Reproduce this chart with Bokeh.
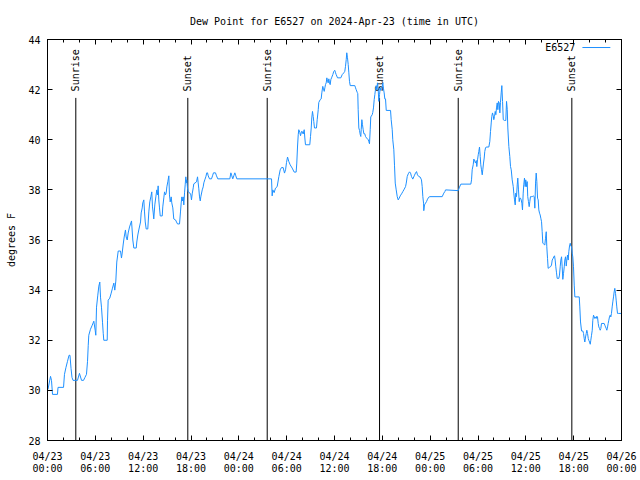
import math
from bokeh.plotting import figure
from bokeh.models import Range1d, FixedTicker, LinearAxis, Label, Arrow
from bokeh.core.properties import value
from bokeh.embed import file_html
from bokeh.resources import INLINE

# ---- data (hours since 2024-04-23 00:00 UTC, dew point in degrees F) ----
hours = [
    0.06, 0.38, 0.50, 0.63, 1.25, 1.32, 2.01, 2.13, 2.32, 2.51, 2.70, 2.82, 2.95, 3.07, 3.20, 3.76,
    4.01, 4.27, 4.52, 4.70, 4.89, 5.02, 5.11, 5.18, 5.39, 5.61, 5.81, 5.98, 6.06, 6.15, 6.31, 6.44,
    6.56, 6.65, 6.77, 6.90, 6.99, 7.06, 7.49, 7.53, 7.61, 7.81, 7.99, 8.15, 8.32, 8.44, 8.57, 8.69,
    8.87, 9.16, 9.28, 9.37, 9.50, 9.62, 9.78, 9.87, 10.00, 10.12, 10.29, 10.54, 10.70, 10.83, 11.13,
    11.20, 11.33, 11.45, 11.67, 11.75, 11.88, 11.95, 12.08, 12.17, 12.26, 12.38, 12.58, 12.71, 12.83,
    12.96, 13.08, 13.17, 13.26, 13.33, 13.46, 13.59, 13.71, 13.80, 13.88, 13.96, 14.05, 14.14, 14.39,
    14.46, 14.59, 14.68, 14.80, 14.89, 14.97, 15.09, 15.22, 15.30, 15.39, 15.52, 15.59, 15.72, 15.84,
    16.06, 16.18, 16.31, 16.56, 16.68, 16.77, 16.85, 16.93, 17.02, 17.10, 17.19, 17.27, 17.35, 17.43,
    17.47, 17.56, 17.65, 17.85, 17.98, 18.06, 18.15, 18.28, 18.35, 18.69, 18.82, 18.90, 18.98, 19.07,
    19.16, 19.23, 19.41, 19.53, 19.61, 19.73, 19.86, 19.98, 20.07, 20.16, 20.32, 20.57, 20.70, 20.82,
    21.07, 21.20, 21.36, 22.87, 23.00, 23.12, 23.24, 23.37, 23.50, 23.62, 23.75, 28.10,
    28.18, 28.26, 28.43, 28.60, 28.81, 29.02, 29.19, 29.35, 29.56, 29.73, 29.86, 29.98, 30.11, 30.27,
    30.44, 30.69, 30.94, 31.19, 31.27, 31.36, 31.45, 31.52, 31.65, 31.74, 31.86, 31.95, 32.07, 32.20,
    32.28, 32.36, 32.90, 32.99, 33.08, 33.15, 33.24, 33.33, 33.40, 33.49, 33.74, 33.83, 33.96, 34.03,
    34.21, 34.33, 34.41, 34.53, 34.62, 34.71, 34.79, 34.87, 34.96, 35.04, 35.12, 35.21, 35.29, 35.37,
    35.46, 35.54, 35.63, 35.79, 35.91, 36.04, 36.13, 36.21, 36.38, 36.79, 36.97, 37.17, 37.29, 37.38,
    37.47, 37.54, 37.63, 37.72, 37.80, 37.88, 37.97, 38.55, 38.64, 38.72, 38.85, 38.92, 38.97, 39.05,
    39.14, 39.23, 39.30, 39.35, 39.43, 39.51, 39.60, 39.68, 39.80, 39.89, 40.02, 40.14, 40.23, 40.30,
    40.39, 40.48, 40.55, 40.73, 40.80, 40.89, 40.98, 41.06, 41.14, 41.23, 41.31, 41.40, 41.48, 41.56,
    41.65, 41.73, 41.81, 41.90, 41.98, 42.06, 42.15, 42.23, 42.31, 42.40, 42.49, 43.03, 43.11, 43.24,
    43.31, 43.44, 43.53, 43.62, 43.74, 43.87, 43.99, 44.12, 44.24, 44.41, 44.57, 44.75, 44.91, 45.00,
    45.12, 45.25, 45.41, 45.54, 45.66, 45.82, 46.00, 46.16, 46.29, 46.41, 46.58, 46.75, 46.91, 47.00,
    47.08, 47.17, 47.20, 47.29, 47.42, 47.54, 47.67, 47.83, 47.96, 49.51, 49.71, 49.84, 49.93, 51.52,
    51.68, 51.85, 53.10, 53.19, 53.27, 53.40, 53.48, 53.60, 53.69, 53.78, 53.85, 53.94, 54.03, 54.10,
    54.19, 54.28, 54.35, 54.44, 54.53, 54.60, 54.69, 54.78, 54.85, 54.94, 55.03, 55.36, 55.48, 55.57,
    55.66, 55.73, 55.82, 55.91, 55.98, 56.07, 56.16, 56.24, 56.32, 56.41, 56.49, 56.57, 56.66, 56.74,
    56.82, 56.91, 56.99, 57.08, 57.17, 57.33, 57.49, 57.58, 57.67, 57.74, 57.87, 57.99, 58.08, 58.17,
    58.29, 58.42, 58.49, 58.58, 58.67, 58.74, 58.83, 58.92, 58.99, 59.08, 59.17, 59.24, 59.33, 59.42,
    59.50, 59.58, 59.67, 59.74, 59.83, 59.92, 59.99, 60.08, 60.17, 60.24, 60.33, 60.42, 60.50, 60.58,
    60.67, 60.80, 60.92, 61.05, 61.13, 61.22, 61.30, 61.38, 61.47, 61.55, 61.63, 61.72, 61.80, 61.88,
    61.97, 62.05, 62.13, 62.25, 62.38, 62.47, 62.56, 62.63, 62.72, 62.80, 62.97, 63.09, 63.22, 63.31,
    63.43, 63.51, 63.60, 63.68, 63.76, 63.85, 63.93, 64.14, 64.22, 64.31, 64.39, 64.48, 64.56, 64.64,
    64.73, 64.82, 64.89, 64.98, 65.07, 65.14, 65.23, 65.32, 65.39, 65.48, 65.57, 65.64, 65.73, 65.82,
    65.89, 65.98, 66.07, 66.15, 66.70, 66.77, 66.86, 66.99, 67.15, 67.24, 67.32, 67.40, 67.49, 67.58,
    67.65, 67.74, 67.83, 67.90, 67.99, 68.08, 68.15, 68.24, 68.33, 68.40, 68.49, 68.58, 68.65, 68.74,
    68.83, 68.90, 68.99, 69.08, 69.16, 69.24, 69.33, 69.41, 69.49, 69.83, 69.91, 70.00, 70.08, 70.16,
    70.25, 70.33, 70.41, 70.49, 70.58, 70.66, 70.74, 70.83, 70.91, 71.00, 71.08, 71.16, 71.25, 71.33,
    71.41, 71.50, 71.66, 72.00,
]
dewpoint = [
    30.04, 30.56, 30.40, 29.84, 29.84, 30.12, 30.12, 30.64, 30.92, 31.16, 31.40, 31.40, 30.88, 30.52, 30.40, 30.40,
    30.68, 30.40, 30.40, 30.52, 30.64, 31.16, 31.80, 32.20, 32.44, 32.60, 32.76, 32.40, 32.20, 33.32, 33.80, 34.16,
    34.32, 33.72, 33.32, 32.72, 32.28, 32.00, 32.00, 32.80, 33.60, 33.68, 33.88, 34.08, 34.28, 34.00, 34.36, 35.12,
    35.56, 35.56, 35.28, 35.48, 35.84, 36.12, 36.40, 36.12, 36.00, 36.28, 36.52, 36.76, 36.00, 35.68, 35.68,
    35.92, 36.20, 36.40, 36.72, 37.08, 37.28, 37.48, 37.60, 37.12, 36.72, 36.44, 36.44, 37.12, 37.52,
    37.72, 37.92, 37.32, 37.08, 36.84, 37.40, 37.72, 38.00, 37.80, 38.16, 37.60, 37.28, 36.96, 36.96,
    37.32, 37.68, 37.92, 37.80, 37.88, 38.12, 38.32, 38.56, 37.80, 37.52, 37.72, 37.48, 37.28, 36.84,
    36.80, 36.72, 36.64, 36.64, 37.12, 37.48, 37.72, 37.56, 37.72, 37.40, 37.88, 38.20, 38.52, 38.28,
    38.40, 38.08, 37.92, 37.88, 37.80, 37.60, 37.84, 38.08, 38.24, 38.32, 38.52, 38.28, 38.04, 37.72,
    37.56, 37.72, 38.00, 38.12, 38.28, 38.40, 38.52, 38.68, 38.68, 38.56, 38.44, 38.44, 38.56, 38.68,
    38.68, 38.56, 38.44, 38.44, 38.68, 38.56, 38.44, 38.56, 38.68, 38.56, 38.44, 38.44,
    37.76, 38.00, 37.89, 38.07, 38.13, 38.53, 38.80, 38.89, 38.89, 38.67, 38.80, 39.09, 39.31, 39.13,
    39.00, 38.87, 38.71, 38.71, 39.07, 39.71, 40.20, 40.40, 40.29, 40.16, 40.33, 40.33, 40.23, 40.40,
    40.07, 39.80, 39.80, 40.13, 40.47, 40.87, 41.13, 40.93, 40.73, 40.47, 40.47, 40.80, 41.20, 41.49,
    41.60, 41.63, 41.87, 42.13, 42.03, 41.93, 42.07, 42.20, 42.27, 42.47, 42.33, 42.27, 42.43, 42.27,
    42.20, 42.40, 42.47, 42.60, 42.73, 42.77, 42.67, 42.60, 42.47, 42.47, 42.60, 42.67, 42.73, 42.93,
    43.20, 43.47, 43.27, 43.00, 42.67, 42.33, 42.16, 42.16, 42.07, 42.00, 41.89, 41.84, 41.20, 40.47,
    40.37, 40.20, 40.13, 40.40, 40.80, 40.60, 40.40, 40.24, 40.24, 40.13, 40.07, 40.03, 40.00, 39.93,
    39.84, 40.40, 40.91, 41.00, 41.09, 41.27, 41.60, 41.80, 42.00, 42.16, 42.00, 42.27, 42.00, 41.53,
    41.80, 42.07, 41.97, 42.00, 42.11, 42.27, 42.03, 41.87, 41.63, 41.63, 41.17, 41.17, 40.80, 40.40,
    40.00, 39.60, 38.96, 38.27, 38.00, 37.73, 37.60, 37.67, 37.76, 37.84, 37.93, 38.03, 38.13, 38.27,
    38.53, 38.64, 38.72, 38.67, 38.53, 38.43, 38.56, 38.67, 38.73, 38.60, 38.53, 38.51, 38.40, 38.13,
    37.73, 37.47, 37.17, 37.40, 37.47, 37.53, 37.63, 37.71, 37.73, 37.73, 37.87, 37.93, 38.00, 37.97,
    38.11, 38.23, 38.23, 38.40, 38.80, 39.00, 39.23, 39.13, 39.07, 39.17, 38.93, 39.20, 39.40, 39.53,
    39.71, 39.33, 39.00, 38.80, 38.60, 38.80, 39.07, 39.27, 39.53, 39.67, 39.71, 39.71, 39.93, 40.33,
    40.67, 40.93, 41.07, 40.96, 40.80, 40.93, 41.13, 41.00, 41.27, 41.47, 41.20, 41.53, 41.47, 41.07,
    41.49, 41.87, 42.16, 41.53, 40.80, 40.77, 40.77, 41.53, 41.20, 40.47, 39.73, 39.33, 38.93, 38.80,
    38.40, 38.13, 37.87, 37.60, 37.40, 37.87, 37.73, 38.20, 38.47, 38.00, 37.53, 37.67, 37.67, 37.60,
    37.47, 37.20, 37.87, 38.20, 38.47, 38.13, 38.40, 38.13, 38.33, 37.73, 37.53, 37.33, 37.53, 37.73,
    37.73, 37.73, 37.76, 37.73, 37.27, 38.27, 38.67, 38.33, 37.67, 37.60, 37.20, 37.07, 37.00, 36.87,
    36.73, 36.33, 35.87, 35.84, 35.80, 36.07, 36.33, 35.73, 35.27, 34.87, 34.91, 34.93, 35.00, 35.20,
    35.27, 35.33, 35.37, 35.20, 34.93, 34.69, 34.47, 34.47, 34.60, 34.93, 35.20, 35.33, 34.93, 34.43,
    34.67, 34.93, 35.20, 35.33, 34.96, 35.20, 35.40, 35.20, 35.53, 35.76, 35.87, 35.76, 35.73, 35.47,
    35.33, 34.93, 34.20, 33.73, 33.73, 33.33, 32.73, 32.37, 32.37, 32.27, 32.07, 31.93, 32.13, 32.27,
    32.40, 32.27, 32.07, 32.00, 31.93, 31.84, 32.00, 32.20, 32.40, 32.80, 33.00, 32.93, 32.87, 32.93,
    32.87, 32.96, 32.93, 32.67, 32.53, 32.47, 32.40, 32.47, 32.67, 32.67, 32.60, 32.53, 32.47, 32.40,
    32.53, 32.67, 32.80, 32.93, 33.00, 32.93, 33.07, 33.33, 33.53, 33.73, 33.93, 34.07, 33.87, 33.60,
    33.33, 33.07, 33.07, 33.07,
]

sun_hours = [3.55, 17.60, 27.56, 41.65, 51.52, 65.77]
sun_labels = ["Sunrise", "Sunset", "Sunrise", "Sunset", "Sunrise", "Sunset"]

x_ticks = [0, 6, 12, 18, 24, 30, 36, 42, 48, 54, 60, 66, 72]
x_tick_labels = ["04/23\n00:00", "04/23\n06:00", "04/23\n12:00", "04/23\n18:00",
                 "04/24\n00:00", "04/24\n06:00", "04/24\n12:00", "04/24\n18:00",
                 "04/25\n00:00", "04/25\n06:00", "04/25\n12:00", "04/25\n18:00",
                 "04/26\n00:00"]
x_minor = list(range(0, 73, 2))
y_ticks = [28, 30, 32, 34, 36, 38, 40, 42, 44]

series_name = "E6527"
title_text = "Dew Point for E6527 on 2024-Apr-23 (time in UTC)"

FONT = "DejaVu Sans Mono"
FS = "10px"
BLUE = "#1E90FF"

p = figure(width=640, height=480, x_range=Range1d(0, 72), y_range=Range1d(28, 44),
           output_backend="svg", toolbar_location=None, title=title_text,
           min_border_left=47, min_border_right=19, min_border_top=39, min_border_bottom=40)

p.title.align = "center"
p.title.text_font = FONT
p.title.text_font_size = FS
p.title.text_font_style = "normal"
p.title.text_color = "black"
p.title.standoff = 26

p.outline_line_color = "black"
p.outline_line_width = 1
p.outline_line_alpha = 1
p.xgrid.visible = False
p.ygrid.visible = False

xt = FixedTicker(ticks=x_ticks, minor_ticks=x_minor)
yt = FixedTicker(ticks=y_ticks, minor_ticks=[])

for ax in p.xaxis:
    ax.ticker = xt
    ax.major_label_overrides = {t: l for t, l in zip(x_ticks, x_tick_labels)}
    ax.major_label_standoff = 10
    ax.major_label_text_line_height = 1.1
for ax in p.yaxis:
    ax.ticker = yt
    ax.axis_label = "degrees F"
    ax.axis_label_text_font = FONT
    ax.axis_label_text_font_size = FS
    ax.axis_label_text_font_style = "normal"
    ax.axis_label_text_color = "black"
    ax.axis_label_standoff = 8
    ax.major_label_standoff = 7

for ax in list(p.xaxis) + list(p.yaxis):
    ax.major_label_text_font = FONT
    ax.major_label_text_font_size = FS
    ax.major_label_text_color = "black"
    ax.major_tick_in = 5
    ax.major_tick_out = 0
    ax.minor_tick_in = 3
    ax.minor_tick_out = 0
    ax.axis_line_color = "black"
    ax.major_tick_line_color = "black"
    ax.minor_tick_line_color = "black"

# mirrored tick marks (gnuplot style), labels not drawn
top = LinearAxis(ticker=xt, major_label_text_font_size="1px", major_label_text_color=None,
                 major_label_standoff=0, major_tick_in=5, major_tick_out=0,
                 minor_tick_in=3, minor_tick_out=0, axis_line_color="black")
right = LinearAxis(ticker=yt, major_label_text_font_size="1px", major_label_text_color=None,
                   major_label_standoff=0, major_tick_in=5, major_tick_out=0,
                   minor_tick_in=0, minor_tick_out=0, axis_line_color="black")
p.add_layout(top, "above")
p.add_layout(right, "right")

# sunrise / sunset markers
p.segment(x0=sun_hours, y0=28, x1=sun_hours, y1=41.67, line_color="black", line_width=1)
p.text(x=sun_hours, y=41.93, text=sun_labels, angle=math.pi / 2,
       text_align="left", text_baseline="middle",
       text_font=value(FONT), text_font_size=FS, text_color="black")

# data line
p.line(hours, dewpoint, line_color=BLUE, line_width=1)

# legend (gnuplot style: label then sample)
p.add_layout(Label(x=66.2, y=43.68, text=series_name, text_align="right", text_baseline="middle",
                   text_font=FONT, text_font_size=FS, text_color="black"))
p.add_layout(Arrow(end=None, x_start=67.1, y_start=43.68, x_end=70.6, y_end=43.68,
                   line_color=BLUE, line_width=1))

open("out.html", "w").write(file_html(p, INLINE))
